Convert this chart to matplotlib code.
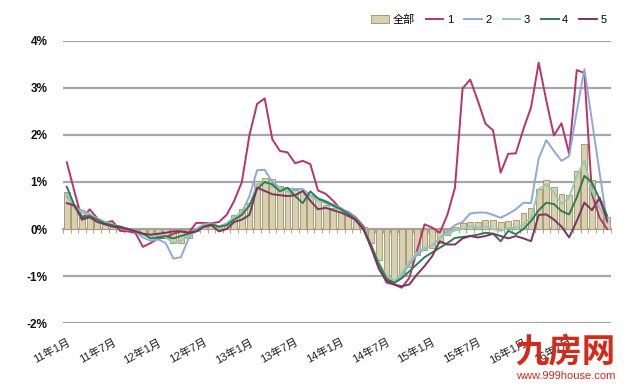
import matplotlib.pyplot as plt
import numpy as np

plt.rcParams['font.family'] = ['Liberation Sans', 'Noto Sans CJK SC', 'DejaVu Sans']

# monthly, 2011-01 .. 2016-12, month-on-month change in %
all_cities = [0.78, 0.5, 0.3, 0.3, 0.22, 0.15, 0.12, 0.05, 0.02, -0.03, -0.1, -0.15,
              -0.15, -0.2, -0.3, -0.3, -0.2, -0.05, 0.05, 0.1, 0.05, 0.1, 0.3, 0.42,
              0.56, 1.02, 1.08, 1.06, 0.92, 0.88, 0.82, 0.78, 0.72, 0.62, 0.52, 0.45,
              0.36, 0.28, 0.18, 0.05, -0.3, -0.65, -1.0, -1.1, -1.0, -0.8, -0.55, -0.45,
              -0.4, -0.3, -0.12, 0.05, 0.12, 0.15, 0.15, 0.2, 0.2, 0.15, 0.18, 0.2,
              0.35, 0.45, 0.85, 1.05, 0.9, 0.75, 0.72, 1.24, 1.8, 1.05, 0.6, 0.25]
tier1 = [1.42, 0.8, 0.2, 0.42, 0.23, 0.13, 0.17, -0.04, -0.05, -0.08, -0.38, -0.3,
         -0.2, -0.18, -0.1, -0.05, -0.08, 0.13, 0.13, 0.12, 0.15, 0.3, 0.6, 1.0,
         2.0, 2.66, 2.78, 1.91, 1.66, 1.63, 1.4, 1.45, 1.38, 0.82, 0.75, 0.6,
         0.42, 0.36, 0.24, 0.05, -0.4, -0.8, -1.14, -1.18, -1.25, -1.04, -0.47, 0.1,
         0.03, -0.08, 0.3, 0.88, 2.99, 3.18, 2.73, 2.24, 2.1, 1.2, 1.6, 1.61,
         2.13, 2.59, 3.54, 2.73, 1.99, 2.25, 1.6, 3.38, 3.32, 0.74, 0.24, 0.0]
tier2 = [0.7, 0.45, 0.4, 0.32, 0.22, 0.15, 0.1, 0.05, 0.0, -0.05, -0.18, -0.25,
         -0.22, -0.3, -0.63, -0.6, -0.2, 0.0, 0.1, 0.12, 0.05, 0.12, 0.25, 0.35,
         0.7, 1.25, 1.26, 1.0, 0.88, 0.86, 0.85, 0.85, 0.72, 0.65, 0.6, 0.52,
         0.45, 0.35, 0.22, 0.0, -0.35, -0.8, -1.1, -1.15, -1.0, -0.75, -0.55, -0.42,
         -0.35, -0.2, -0.05, 0.08, 0.15, 0.33, 0.35, 0.35, 0.3, 0.24, 0.32, 0.42,
         0.56, 0.55, 1.5, 1.89, 1.66, 1.45, 1.55, 2.5, 3.4, 2.3, 1.2, 0.13]
tier3 = [0.75, 0.45, 0.35, 0.3, 0.22, 0.15, 0.1, 0.05, 0.0, -0.05, -0.12, -0.15,
         -0.12, -0.18, -0.3, -0.25, -0.15, -0.05, 0.08, 0.1, 0.05, 0.1, 0.25, 0.35,
         0.5, 0.95, 1.0, 0.9, 0.88, 0.8, 0.7, 0.8, 0.7, 0.6, 0.55, 0.48,
         0.4, 0.3, 0.2, 0.0, -0.35, -0.7, -1.0, -1.1, -0.95, -0.7, -0.5, -0.4,
         -0.35, -0.2, -0.1, -0.03, 0.0, 0.05, 0.03, 0.05, 0.0, -0.04, 0.02, 0.03,
         0.1, 0.24, 0.85, 0.95, 0.77, 0.53, 0.67, 1.13, 1.45, 0.81, 0.45, 0.17]
tier4 = [0.9, 0.5, 0.25, 0.28, 0.2, 0.12, 0.08, 0.05, 0.0, -0.05, -0.1, -0.2,
         -0.18, -0.15, -0.2, -0.15, -0.1, -0.05, 0.05, 0.1, 0.05, 0.08, 0.2, 0.3,
         0.5, 0.85, 1.0, 0.95, 0.8, 0.88, 0.7, 0.55, 0.8, 0.65, 0.58, 0.5,
         0.42, 0.32, 0.2, 0.0, -0.35, -0.75, -1.05, -1.15, -1.05, -0.9, -0.75, -0.6,
         -0.5, -0.4, -0.3, -0.19, -0.17, -0.15, -0.12, -0.08, -0.1, -0.26, -0.04, -0.11,
         0.0, 0.17, 0.4, 0.56, 0.53, 0.38, 0.31, 0.67, 1.13, 0.99, 0.63, 0.28]
tier5 = [0.55, 0.5, 0.2, 0.25, 0.15, 0.1, 0.05, 0.03, 0.0, -0.05, -0.1, -0.12,
         -0.1, -0.08, -0.05, -0.05, -0.08, -0.05, 0.05, 0.08, -0.05, 0.0, 0.15, 0.2,
         0.3, 0.88, 0.81, 0.74, 0.72, 0.7, 0.72, 0.81, 0.6, 0.42, 0.45, 0.4,
         0.35, 0.28, 0.18, -0.02, -0.4, -0.85, -1.1, -1.18, -1.22, -1.18, -0.97, -0.79,
         -0.58, -0.26, -0.33, -0.33, -0.2, -0.15, -0.18, -0.15, -0.1, -0.15, -0.2, -0.15,
         -0.2, -0.26, 0.3, 0.31, 0.2, 0.05, -0.18, 0.17, 0.56, 0.4, 0.67, 0.17]

months = [f"{y % 100}年{m}月" for y in range(2011, 2017) for m in range(1, 13)]
tick_idx = list(range(0, len(months), 6))

line_series = [("1", tier1, "#b8336a"), ("2", tier2, "#8fa8dc"),
               ("3", tier3, "#93cbac"), ("4", tier4, "#2e7d4f"),
               ("5", tier5, "#7a3560")]

fig = plt.figure(figsize=(6.25, 3.86), dpi=100)
ax = fig.add_axes([0.1008, 0.1632, 0.8768, 0.7306])
x = np.arange(len(months))

for yv in [-2, -1, 1, 2, 3, 4]:
    ax.axhline(yv, color="#a6a6a6", lw=1.6, zorder=0)

handles = []
handles.append(ax.bar(x, all_cities, width=0.78, color="#d9d0b2", edgecolor="#a89b74",
                      lw=0.7, label="全部", zorder=1))
for name, vals, col in line_series:
    handles += ax.plot(x, vals, color=col, lw=1.4, label=name, zorder=3)

ax.set_xlim(-0.5, len(months) - 0.5)
ax.set_ylim(-2, 4)
for s in ax.spines.values():
    s.set_visible(False)

ax.set_yticks([-2, -1, 0, 1, 2, 3, 4])
ax.set_yticklabels([f"{v}%" for v in [-2, -1, 0, 1, 2, 3, 4]],
                   fontsize=8.5, color="#111111", fontweight="bold")
ax.tick_params(axis="y", length=0, pad=11)

ax.set_xticks(tick_idx)
ax.set_xticklabels([months[i] for i in tick_idx], rotation=28, ha="right",
                   rotation_mode="anchor", fontsize=8, color="#222222")
ax.tick_params(axis="x", length=0, pad=10)

# category axis at zero with small tick marks
zero_ax = ax.secondary_xaxis(1 / 3)
zero_ax.spines["bottom"].set_color("#a6a6a6")
zero_ax.spines["bottom"].set_linewidth(1.6)
zero_ax.set_xticks(np.arange(len(months) + 1) - 0.5)
zero_ax.tick_params(axis="x", length=3, width=0.8, color="#a6a6a6", labelbottom=False)

ax.legend(handles=handles, loc="upper right", bbox_to_anchor=(1.0, 1.11), ncol=6,
          frameon=False, fontsize=8, handlelength=1.6, handletextpad=0.3,
          columnspacing=1.0, borderaxespad=0)

fig.text(0.985, 0.045, "九房网", color="#d42a1c", fontsize=24, ha="right",
         va="bottom", fontweight="bold", family=["Noto Sans CJK SC"])
fig.text(0.985, 0.012, "www.999house.com", color="#d42a1c", fontsize=8,
         ha="right", va="bottom")

fig.savefig("out.png", dpi=100)
